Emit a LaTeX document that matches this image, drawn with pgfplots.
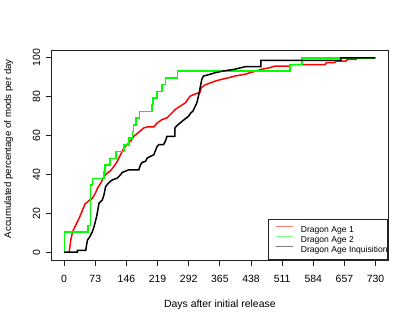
\documentclass[border=0pt]{standalone}
\usepackage{fontspec}
\setmainfont{Liberation Sans}
\usepackage{pgfplots}
\pgfplotsset{compat=1.18}
\definecolor{Rred}{HTML}{FF0000}
\definecolor{Rgreen}{HTML}{00FF00}
\definecolor{Frame}{HTML}{222222}

\begin{document}
\begin{tikzpicture}
\begin{axis}[
  scale only axis, width=336.3bp, height=210bp,
  xmin=-29.2, xmax=759.2, ymin=-4, ymax=104,
  axis line style={draw=Frame,line width=0.8bp},
  xtick={0,73,146,219,292,365,438,511,584,657,730},
  ytick={0,20,40,60,80,100},
  tick align=outside, xtick pos=left, ytick pos=left,
  major tick length=6bp, tick style={draw=Frame,line width=0.8bp},
  /pgf/number format/assume math mode=true,
  ticklabel style={font=\fontsize{10.5}{12}\selectfont},
  xticklabel style={anchor=base,yshift=-16bp},
  yticklabel style={anchor=base,xshift=-5.5bp,rotate=90},
  xlabel={Days after initial release},
  ylabel={Accumulated percentage of mods per day},
  xlabel style={font=\fontsize{10.5}{12}\selectfont,at={(axis description cs:0.5,-0.2262)},anchor=base},
  ylabel style={font=\fontsize{9.7}{12}\selectfont,at={(axis description cs:-0.1207,0.5295)},anchor=base},
  legend style={at={(axis description cs:1,0)},anchor=south east,draw=Frame,line width=0.8bp,fill=white,
    inner xsep=0pt,inner ysep=6.3bp,font=\fontsize{8.6}{10}\selectfont,row sep=2bp,column sep=7.4bp,
    nodes={inner sep=0pt,text height=7.5bp,text depth=0.5bp},cells={anchor=west}},
  legend image code/.code={\path (0bp,0bp); \draw[#1,line width=1bp,draw opacity=0.5] (6.7bp,2.8bp) -- (23.4bp,2.8bp);},
]
% Dragon Age 1
\addplot[Rred,line width=1.5bp] coordinates {
(11.7,0)(15.6,6.2)(19.6,10.5)(27.3,14)(35,17.4)(43,21.7)(49,24.8)(58.3,26.5)(66,27.7)(74,30.7)
(78,32.9)(85.6,35.5)(93.3,38.9)(101,40.7)(109,42)(116.6,44.1)(124.5,46.7)(132,50.1)(140,53.6)
(148,55.3)(155.5,57)(163,59.6)(175,61.7)(186.6,63.9)(194.5,64.4)(210,64.4)(218,66.5)(229.5,68.2)
(241,69.1)(249,70.8)(260.5,73.4)(272,75.1)(284,76.8)(295.5,80.3)(311,81.7)(318,82)(321,84.6)
(330,86)(338,86.7)(354,88)(369,88.9)(385,89.7)(400,90.6)(424,91.5)(435,92.3)(451,93.2)(463,94.1)
(482,94.9)(494,95.7)(529,95.7)(532,96.5)(612,96.5)(615,97.5)(634,97.5)(637,98.3)(661,98.3)
(664,99.2)(684,99.2)(687,100)(711,100)};
\addlegendentry{Dragon Age 1}
% Dragon Age 2
\addplot[Rgreen,line width=1.5bp] coordinates {
(0,0)(1,0)(1,10.34)(56,10.34)(56,13.79)(62,13.79)(62,34.48)(66,34.48)(66,37.93)(93,37.93)
(93,41.38)(96,41.38)(96,44.83)(107,44.83)(107,48.28)(122,48.28)(122,51.72)(140,51.72)
(140,55.17)(152,55.17)(152,58.62)(160,58.62)(160,62.07)(163,62.07)(163,65.52)(168,65.52)
(168,68.97)(177,68.97)(177,72.41)(206,72.41)(206,75.86)(208,75.86)(208,79.31)(218,79.31)
(218,82.76)(229,82.76)(229,86.21)(237,86.21)(237,89.66)(266,89.66)(266,93.10)(530,93.10)
(530,96.55)(558,96.55)(558,100)(730,100)};
\addlegendentry{Dragon Age 2}
% Dragon Age Inquisition
\addplot[black,line width=1.5bp] coordinates {
(0,0)(31,0)(31,1)(50.6,1)(54.5,6.2)(60,7.9)(66,10.5)(70,13.1)(76,18.2)(81.7,25.2)(89.5,26.9)
(93.3,29.5)(97.2,33.8)(105,35.8)(112.8,37.2)(124.5,38.1)(132,39.8)(136,41)(151.6,42.4)(175,42.4)
(179,45)(183,46.2)(190.5,46.7)(194.5,48.4)(202,49.3)(210,50.1)(218,54.4)(221.5,55.3)(233,55.3)
(237,57)(241,59.6)(259.8,59.6)(259.8,63.9)(264.4,65.1)(272.1,66.5)(278.4,67.7)(283.8,68.6)
(291.5,69.9)(297.1,71.7)(301.7,72.5)(311,76.8)(314.9,80.3)(318.8,84.6)(322.7,88.9)(326.5,90.6)
(342,91.5)(353.8,92.3)(373,93.2)(400,94.1)(424,95.4)(461,95.4)(461,98.7)(649,98.7)(649,100)(729,100)};
\addlegendentry{Dragon Age Inquisition}
\end{axis}
\pgfresetboundingbox
\path (current axis.south west) ++(-51.7bp,-64bp) rectangle ++(415bp,324bp);
\end{tikzpicture}
\end{document}
